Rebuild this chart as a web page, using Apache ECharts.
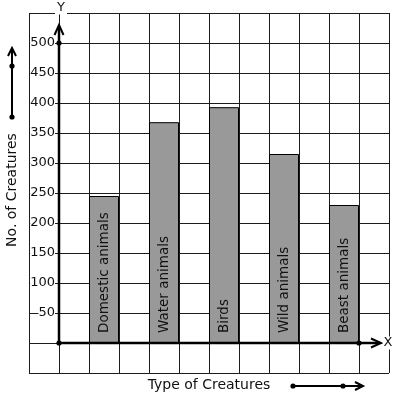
<!DOCTYPE html>
<html>
<head>
<meta charset="utf-8">
<script src="https://cdn.jsdelivr.net/npm/echarts@6/dist/echarts.min.js"></script>
<style>
  html, body { margin: 0; padding: 0; background: #fff; }
  #chart { width: 397px; height: 399px; }
</style>
</head>
<body>
<div id="chart"></div>
<script>
// data
const creatures = ['Domestic animals', 'Water animals', 'Birds', 'Wild animals', 'Beast animals'];
const counts = [245, 368, 393, 315, 230];
const yTicks = [50, 100, 150, 200, 250, 300, 350, 400, 450, 500];

// the chart places one bar in every other column of a 12-column grid
const slotCount = 12;
const slots = new Array(slotCount).fill('');
const slotValues = new Array(slotCount).fill(null);
creatures.forEach((c, i) => {
    slots[2 + i * 2] = c;
    slotValues[2 + i * 2] = counts[i];
});

const font = 'DejaVu Sans';
const ink = '#111';
const gridLine = { show: true, lineStyle: { color: '#1c1c1c', width: 1 } };

const chart = echarts.init(document.getElementById('chart'));

chart.setOption({
    animation: false,
    textStyle: { fontFamily: font },
    grid: { left: 29, top: 13, width: 360, height: 360 },
    xAxis: {
        type: 'category',
        data: slots,
        boundaryGap: true,
        axisLine: { show: false },
        axisTick: { show: false },
        axisLabel: { show: false },
        splitLine: Object.assign({ interval: 0 }, gridLine)
    },
    yAxis: [{
        type: 'value',
        min: -50, max: 550, interval: 50,
        axisLine: { show: false },
        axisTick: { show: false },
        axisLabel: { show: false },
        splitLine: gridLine
    }, {
        // tick labels sit on top of the grid lines with a white box
        type: 'value',
        min: -50, max: 550, interval: 50,
        position: 'left',
        offset: -30,
        z: 5,
        axisLine: { show: false },
        axisTick: { show: false },
        splitLine: { show: false },
        axisLabel: {
            margin: 4,
            fontSize: 13,
            fontFamily: font,
            color: ink,
            backgroundColor: '#fff',
            padding: 0,
            formatter: v => yTicks.includes(v) ? String(v) : ''
        }
    }],
    series: [{
        type: 'bar',
        data: slotValues,
        barCategoryGap: '0%',
        itemStyle: { color: '#999999', borderColor: '#000', borderWidth: 1 },
        label: {
            show: true,
            position: 'insideBottom',
            rotate: 90,
            align: 'left',
            verticalAlign: 'middle',
            distance: 10,
            fontSize: 13.5,
            fontFamily: font,
            color: ink,
            formatter: p => p.name
        }
    }]
});

// axis arrows and side captions
const origin = chart.convertToPixel({ yAxisIndex: 0 }, 0);
const top500 = chart.convertToPixel({ yAxisIndex: 0 }, 500);
const axisX = 59;
const stroke = { stroke: '#000', lineWidth: 2.5, fill: null };
const thin = { stroke: '#000', lineWidth: 2, fill: null };
const dot = (x, y) => ({ type: 'circle', shape: { cx: x, cy: y, r: 2.6 }, style: { fill: '#000' }, z: 10 });
const txt = (x, y, text, extra) => ({
    type: 'text', x: x, y: y, z: 10,
    style: Object.assign({ text: text, fontSize: 14, fontFamily: font, fill: ink,
        align: 'center', verticalAlign: 'middle' }, extra || {})
});

chart.setOption({
    graphic: [
        { type: 'polyline', shape: { points: [[axisX, origin], [axisX, 26]] }, style: stroke, z: 10 },
        { type: 'polyline', shape: { points: [[axisX - 4.5, 35], [axisX, 25], [axisX + 4.5, 35]] }, style: thin, z: 10 },
        { type: 'polyline', shape: { points: [[axisX, origin], [380, origin]] }, style: stroke, z: 10 },
        { type: 'polyline', shape: { points: [[371, origin - 4.5], [381, origin], [371, origin + 4.5]] }, style: thin, z: 10 },
        dot(axisX, top500), dot(axisX, origin), dot(359, origin),
        txt(61, 8, 'Y', { fontSize: 13, backgroundColor: '#fff', padding: [0, 2] }),
        txt(388, origin, 'X', { fontSize: 13, backgroundColor: '#fff', padding: [0, 1] }),
        // left caption and arrow
        {
            type: 'text', x: 12, y: 190, rotation: Math.PI / 2, z: 10,
            style: { text: 'No. of Creatures', fontSize: 14, fontFamily: font, fill: ink,
                align: 'center', verticalAlign: 'middle' }
        },
        { type: 'polyline', shape: { points: [[12, 117], [12, 49]] }, style: thin, z: 10 },
        { type: 'polyline', shape: { points: [[8, 56], [12, 48], [16, 56]] }, style: thin, z: 10 },
        dot(12, 66), dot(12, 117),
        // bottom caption and arrow
        txt(209, 385, 'Type of Creatures'),
        { type: 'polyline', shape: { points: [[293, 386], [362, 386]] }, style: thin, z: 10 },
        { type: 'polyline', shape: { points: [[355, 382], [363, 386], [355, 390]] }, style: thin, z: 10 },
        dot(293, 386), dot(343, 386)
    ]
});
</script>
</body>
</html>
